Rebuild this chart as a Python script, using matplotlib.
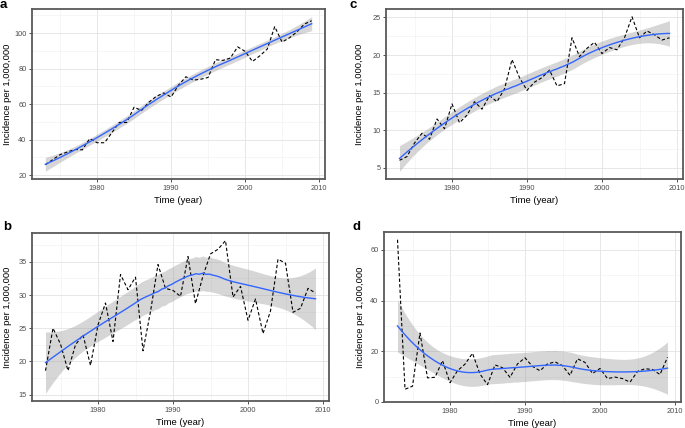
import numpy as np
import matplotlib
matplotlib.use('Agg')
import matplotlib.pyplot as plt

plt.rcParams['font.family'] = ['Liberation Sans', 'DejaVu Sans']

years = np.arange(1973, 2010)

incidence_a = [25.9, 28.8, 31.6, 33.1, 34.5, 34.3, 40.6, 38.3, 38.3, 44.0, 49.7, 49.7,
               58.3, 56.4, 61.1, 64.4, 66.3, 64.0, 70.7, 75.4, 73.5, 74.0, 75.0, 85.0,
               84.6, 85.9, 92.2, 89.7, 84.0, 87.2, 91.0, 103.6, 94.9, 97.3, 100.6, 105.0, 106.9]
incidence_b = [18.6, 25.0, 22.6, 18.6, 22.5, 24.0, 19.4, 25.5, 28.8, 23.0, 33.1, 30.8,
               32.7, 21.6, 27.5, 34.6, 31.0, 30.7, 29.8, 35.8, 28.7, 32.9, 36.2, 36.9,
               38.2, 29.7, 31.3, 26.2, 29.4, 24.2, 27.6, 35.4, 34.8, 27.4, 28.0, 31.0, 30.3]
incidence_c = [6.0, 6.5, 8.3, 9.6, 8.8, 11.5, 10.2, 13.5, 11.0, 12.0, 13.8, 12.8,
               14.6, 13.8, 15.5, 19.4, 17.0, 15.3, 16.4, 17.0, 18.0, 15.9, 16.2, 22.3,
               19.8, 20.9, 21.7, 20.2, 21.0, 20.7, 22.3, 25.1, 22.3, 23.2, 22.7, 22.0, 22.3]
incidence_d = [64.0, 5.0, 6.2, 27.2, 9.5, 9.7, 16.3, 7.6, 12.3, 14.9, 19.2, 11.0,
               6.8, 14.6, 13.5, 9.7, 15.0, 17.4, 14.0, 12.3, 15.0, 15.8, 14.3, 10.5,
               17.0, 15.6, 11.2, 13.2, 9.2, 9.8, 9.2, 7.8, 12.0, 13.1, 12.8, 10.8, 17.6]

yticks_a = [20, 40, 60, 80, 100]
yticks_b = [15, 20, 25, 30, 35]
yticks_c = [5, 10, 15, 20, 25]
yticks_d = [0, 20, 40, 60]
xticks = [1980, 1990, 2000, 2010]


def loess_rows(x, xnew, span=0.75):
    """local quadratic weights (like R loess), one row per new x"""
    n = len(x)
    q = int(np.floor(n * span))
    rows = []
    for x0 in xnew:
        d = np.abs(x - x0)
        h = np.sort(d)[q - 1]
        w = np.clip(1 - (d / h) ** 3, 0, None) ** 3
        X = np.vstack([np.ones(n), x - x0, (x - x0) ** 2]).T
        XtW = X.T * w
        rows.append(np.linalg.solve(XtW @ X, XtW)[0])
    return np.array(rows)


def smooth(x, y):
    x = np.asarray(x, float)
    y = np.asarray(y, float)
    n = len(x)
    L = loess_rows(x, x)
    R = np.eye(n) - L
    RR = R.T @ R
    d1 = np.trace(RR)
    d2 = np.trace(RR @ RR)
    res = R @ y
    sigma = np.sqrt(res @ res / d1)
    df = d1 ** 2 / d2
    z = 1.959964
    t = z + (z ** 3 + z) / (4 * df) + (5 * z ** 5 + 16 * z ** 3 + 3 * z) / (96 * df ** 2)
    xs = np.linspace(x.min(), x.max(), 80)
    Ls = loess_rows(x, xs)
    fit = Ls @ y
    se = sigma * np.sqrt((Ls ** 2).sum(axis=1))
    return xs, fit, fit - t * se, fit + t * se


fig = plt.figure(figsize=(6.85, 4.28), dpi=100)
W, H = 685, 428


def draw_panel(box, values, yticks, letter, letter_xy, ylab_x):
    l, t, r, b = box
    ax = fig.add_axes([l / W, 1 - b / H, (r - l) / W, (b - t) / H])
    xs, fit, lo, hi = smooth(years, values)
    ax.fill_between(xs, lo, hi, color='#999999', alpha=0.4, lw=0, zorder=2)
    ax.plot(years, values, color='black', ls=(0, (3, 2)), lw=0.8, zorder=3)
    ax.plot(xs, fit, color='#3366FF', lw=1.0, zorder=4)

    # ticks first, limits after (set_ticks may widen the view)
    step = yticks[1] - yticks[0]
    ax.set_xticks(xticks)
    ax.set_yticks(yticks)
    ax.set_xticks([1975, 1985, 1995, 2005], minor=True)
    ax.set_yticks([v + step / 2 for v in [yticks[0] - step] + yticks], minor=True)

    ymin = min(lo.min(), min(values))
    ymax = max(hi.max(), max(values))
    pad = (ymax - ymin) * 0.05
    ax.set_ylim(ymin - pad, ymax + pad)
    ax.set_xlim(1973 - 1.8, 2009 + 1.8)

    ax.grid(True, which='major', color='#E3E3E3', lw=0.6, zorder=0)
    ax.grid(True, which='minor', color='#F0F0F0', lw=0.4, zorder=0)
    ax.tick_params(which='minor', length=0)
    ax.tick_params(which='major', length=2.5, width=0.6, color='#333333',
                   labelsize=5.3, labelcolor='#4D4D4D', pad=1.5)
    for s in ax.spines.values():
        s.set_color('#595959')
        s.set_linewidth(1.3)
    ax.set_axisbelow(True)
    ax.set_xlabel('Time (year)', fontsize=6.8, labelpad=3)
    ax.set_ylabel('Incidence per 1,000,000', fontsize=6.8)
    ax.yaxis.set_label_coords((ylab_x - l) / (r - l), 0.5)
    fig.text(letter_xy[0] / W, 1 - letter_xy[1] / H, letter, fontsize=9.5,
             fontweight='bold', va='baseline', ha='left')
    return ax


draw_panel((32, 9, 325, 179), incidence_a, yticks_a, 'a', (0, 7.5), 12)
draw_panel((386, 9, 683, 179), incidence_c, yticks_c, 'c', (349, 7.5), 364)
draw_panel((32, 233, 329, 401), incidence_b, yticks_b, 'b', (3, 230), 12)
draw_panel((384, 232, 681, 402), incidence_d, yticks_d, 'd', (353, 230.5), 365)

fig.savefig('out.png', dpi=100)
